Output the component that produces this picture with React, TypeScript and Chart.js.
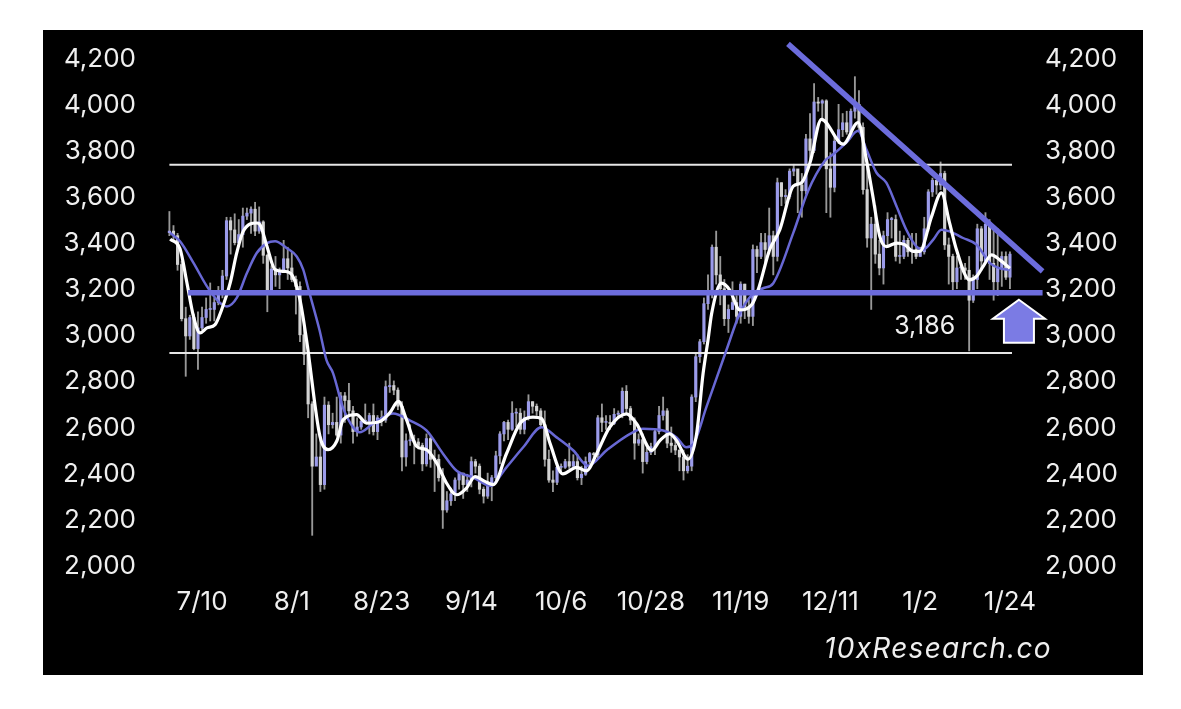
import React, { useEffect, useRef } from 'react';
import { Chart, registerables } from 'chart.js';

Chart.register(...registerables);

const FONT = 'Inter, "Noto Sans", "DejaVu Sans", sans-serif';

// x axis: day index (0 = 1 Jul 2024)
const tickDays = [9, 31, 53, 75, 97, 119, 141, 163, 185, 207];
const tickLabels = ['7/10', '8/1', '8/23', '9/14', '10/6', '10/28', '11/19', '12/11', '1/2', '1/24'];

// daily candles, first one plotted at day 1
const firstCandleDay = 1;
const firstOpen = 3433;
const highs = [
  3525, 3464, 3430, 3310, 3110, 3075, 3080, 3090, 3110, 3150,
  3215, 3150, 3200, 3270, 3500, 3500, 3515, 3490, 3540, 3540,
  3545, 3565, 3545, 3485, 3340, 3290, 3330, 3280, 3400, 3370,
  3350, 3245, 3220, 3020, 2940, 2700, 2560, 2550, 2720, 2700,
  2650, 2720, 2740, 2740, 2780, 2680, 2630, 2630, 2690, 2650,
  2690, 2640, 2660, 2790, 2820, 2790, 2760, 2700, 2560, 2600,
  2555, 2540, 2520, 2560, 2550, 2490, 2470, 2410, 2310, 2325,
  2370, 2390, 2390, 2385, 2460, 2450, 2430, 2330, 2390, 2380,
  2485, 2570, 2615, 2620, 2700, 2670, 2670, 2660, 2730, 2700,
  2690, 2670, 2660, 2490, 2400, 2420, 2430, 2450, 2520, 2470,
  2470, 2420, 2460, 2480, 2480, 2640, 2690, 2640, 2640, 2670,
  2660, 2760, 2770, 2680, 2630, 2560, 2560, 2500, 2520, 2580,
  2680, 2720, 2670, 2590, 2530, 2490, 2490, 2470, 2730, 2910,
  2970, 3150, 3250, 3380, 3440, 3330, 3230, 3120, 3220, 3160,
  3220, 3210, 3140, 3380, 3375, 3430, 3430, 3540, 3440, 3670,
  3650, 3620, 3710, 3730, 3700, 3690, 3860, 3950, 4080, 4020,
  4010, 4010, 3780, 3850, 3990, 3950, 3960, 3970, 4110, 4050,
  3910, 3720, 3500, 3550, 3400, 3440, 3520, 3500, 3510, 3440,
  3420, 3410, 3430, 3430, 3370, 3500, 3620, 3670, 3660, 3740,
  3700, 3410, 3340, 3330, 3300, 3300, 3330, 3250, 3470, 3460,
  3520, 3490, 3450, 3450, 3350, 3350, 3350,
];
const lows = [
  3420, 3400, 3270, 3050, 2810, 2970, 2925, 2840, 3010, 3040,
  3050, 3050, 3120, 3150, 3230, 3340, 3380, 3380, 3370, 3490,
  3430, 3420, 3430, 3300, 3090, 3170, 3200, 3190, 3260, 3230,
  3220, 3080, 2960, 2860, 2630, 2120, 2430, 2310, 2320, 2560,
  2585, 2550, 2520, 2610, 2640, 2520, 2550, 2580, 2610, 2560,
  2555, 2535, 2595, 2610, 2740, 2730, 2665, 2400, 2420, 2510,
  2430, 2495, 2400, 2420, 2415, 2310, 2355, 2150, 2220, 2250,
  2270, 2320, 2280, 2310, 2330, 2390, 2300, 2260, 2280, 2270,
  2360, 2430, 2530, 2535, 2575, 2590, 2560, 2560, 2620, 2650,
  2640, 2590, 2420, 2350, 2310, 2340, 2395, 2410, 2410, 2410,
  2360, 2340, 2380, 2430, 2440, 2450, 2570, 2580, 2580, 2600,
  2630, 2630, 2650, 2600, 2450, 2510, 2390, 2430, 2470, 2470,
  2560, 2620, 2500, 2480, 2470, 2400, 2360, 2390, 2400, 2700,
  2870, 2950, 3100, 3150, 3210, 3120, 3030, 3000, 3100, 3040,
  3040, 3060, 3040, 3030, 3260, 3320, 3280, 3340, 3250, 3310,
  3550, 3560, 3580, 3680, 3520, 3500, 3600, 3750, 3780, 3960,
  3920, 3520, 3500, 3610, 3820, 3850, 3860, 3850, 3930, 3870,
  3600, 3370, 3100, 3300, 3250, 3210, 3380, 3410, 3310, 3300,
  3320, 3330, 3300, 3320, 3330, 3340, 3440, 3590, 3600, 3620,
  3360, 3210, 3180, 3190, 3230, 3230, 2920, 3130, 3190, 3270,
  3300, 3230, 3140, 3160, 3200, 3230, 3190,
];
const closes = [
  3440, 3420, 3295, 3060, 2985, 3065, 2930, 3020, 3065, 3100,
  3100, 3130, 3175, 3245, 3485, 3445, 3390, 3425, 3505, 3518,
  3535, 3440, 3480, 3335, 3175, 3275, 3250, 3270, 3320, 3280,
  3230, 3200, 2990, 2905, 2690, 2420, 2460, 2340, 2685, 2600,
  2610, 2555, 2725, 2705, 2660, 2570, 2590, 2615, 2615, 2640,
  2570, 2630, 2620, 2765, 2770, 2750, 2680, 2460, 2530, 2530,
  2525, 2510, 2430, 2540, 2450, 2450, 2370, 2230, 2270, 2300,
  2360, 2390, 2340, 2360, 2440, 2420, 2320, 2290, 2340, 2370,
  2465, 2560, 2610, 2580, 2650, 2650, 2580, 2630, 2700, 2680,
  2660, 2600, 2450, 2360, 2350, 2415, 2415, 2440, 2420, 2440,
  2370, 2385, 2440, 2475, 2470, 2630, 2610, 2610, 2605, 2645,
  2650, 2745, 2670, 2620, 2520, 2535, 2440, 2480, 2505, 2570,
  2640, 2660, 2520, 2510, 2490, 2460, 2400, 2420, 2720, 2895,
  2960, 3125, 3180, 3370, 3250, 3190, 3060, 3100, 3130, 3070,
  3210, 3110, 3070, 3360, 3330, 3390, 3360, 3420, 3330, 3650,
  3590, 3590, 3700, 3710, 3640, 3615, 3840, 3790, 4000, 3995,
  4005, 3710, 3630, 3830, 3880, 3910, 3870, 3960, 3990, 3890,
  3620, 3410, 3470, 3340, 3280, 3420, 3490, 3490, 3330, 3330,
  3400, 3350, 3360, 3330, 3350, 3450, 3610, 3660, 3640, 3690,
  3380, 3330, 3220, 3280, 3280, 3270, 3140, 3230, 3450, 3310,
  3470, 3300, 3220, 3280, 3330, 3240, 3340,
];

// short moving average (white), [day, value]
const fastMA: [number, number][] = [
  [1.2, 3405], [3.6, 3363], [5.3, 3215], [6.9, 3070], [8.5, 2998], [10.2, 3020],
  [12.2, 3034], [13.8, 3099], [15.9, 3215], [17.5, 3345], [19.1, 3439], [22.4, 3475],
  [23.2, 3468], [24.9, 3374], [26.9, 3273], [29.3, 3265], [31.0, 3251], [33.0, 3142],
  [34.6, 2969], [37.9, 2549], [39.9, 2492], [42.0, 2528], [43.6, 2622], [46.9, 2644],
  [49.3, 2607], [52.6, 2614], [55.0, 2651], [57.1, 2701], [59.1, 2622], [61.6, 2506],
  [64.0, 2492], [66.5, 2434], [68.9, 2347], [71.4, 2296], [73.8, 2325], [75.9, 2375],
  [78.3, 2354], [80.4, 2340], [83.6, 2474], [86.9, 2605], [90.1, 2633], [92.2, 2627],
  [94.3, 2518], [97.4, 2387], [100.8, 2415], [103.2, 2400], [105.7, 2474], [108.9, 2589],
  [113.0, 2647], [115.5, 2604], [119.2, 2488], [121.2, 2531], [123.6, 2560], [125.3, 2531],
  [128.1, 2451], [130.2, 2560], [131.8, 2823], [133.0, 2967], [133.9, 3083], [136.3, 3214],
  [138.3, 3185], [140.8, 3098], [143.7, 3120], [145.3, 3185], [148.1, 3359], [150.6, 3446],
  [153.9, 3635], [155.9, 3650], [158.0, 3737], [160.8, 3925], [166.1, 3817], [169.8, 3911],
  [171.8, 3751], [173.4, 3591], [175.1, 3417], [176.7, 3373], [179.2, 3388], [181.2, 3381],
  [183.3, 3352], [184.9, 3352], [187.8, 3504], [190.2, 3606], [192.2, 3475], [193.9, 3359],
  [197.1, 3228], [198.8, 3243], [200.4, 3286], [202.5, 3337], [204.5, 3315], [207.0, 3279],
];

// longer moving average (purple), [day, value]
const slowMA: [number, number][] = [
  [1.2, 3432], [3.6, 3396], [6.9, 3302], [10.2, 3200], [13.0, 3135], [15.1, 3113],
  [17.5, 3150], [20.0, 3258], [22.4, 3345], [24.9, 3388], [26.9, 3396], [29.7, 3367],
  [32.2, 3330], [33.8, 3273], [35.0, 3193], [37.8, 3010], [39.5, 2880], [41.1, 2824],
  [43.5, 2676], [46.0, 2589], [47.6, 2567], [50.9, 2604], [55.8, 2649], [60.0, 2618],
  [64.0, 2575], [68.1, 2473], [71.4, 2400], [75.5, 2371], [79.6, 2335], [83.6, 2415],
  [87.7, 2502], [92.2, 2589], [95.9, 2545], [100.0, 2488], [103.6, 2422], [108.1, 2488],
  [113.9, 2560], [117.1, 2582], [122.0, 2575], [125.3, 2545], [127.7, 2502], [129.4, 2516],
  [132.6, 2676], [137.5, 2923], [140.8, 3083], [144.1, 3170], [146.5, 3192], [149.0, 3214],
  [153.9, 3432], [157.5, 3613], [161.6, 3744], [163.7, 3773], [166.9, 3824], [169.8, 3875],
  [171.8, 3795], [174.3, 3693], [176.7, 3650], [179.2, 3548], [181.6, 3446], [184.1, 3373],
  [185.7, 3359], [188.2, 3403], [190.2, 3446], [192.2, 3439], [195.5, 3410], [198.8, 3381],
  [202.1, 3301], [204.5, 3279], [207.0, 3272],
];

// horizontal levels
const upperLevel = 3728;
const lowerLevel = 2911;
const levelSpan = [1, 207.5];
const supportLevel = 3172;
const supportSpan = [5.6, 215];
const supportText = '3,186';
const supportTextPos = [186.1, 3027];

// descending trend line
const trendDays = [152.6, 215];
const trendValues = [4252, 3265];

// up arrow anchor (tip)
const arrowPos = [209.2, 3142];

const PURPLE = '#6c6cdc';
const UP_BODY = '#9b9bea';
const DOWN_BODY = '#d2d2d2';
const WICK = 'rgba(190,190,190,0.8)';
const TEXT = '#efefef';

const opens = closes.map((c, i) => (i === 0 ? firstOpen : closes[i - 1]));

const annotationPlugin = {
  id: 'annotations',
  afterDatasetsDraw(chart: any) {
    const { ctx, scales } = chart;
    const x = scales.x;
    const y = scales.y;
    ctx.save();
    ctx.font = `25px ${FONT}`;
    ctx.fillStyle = TEXT;
    ctx.textAlign = 'center';
    ctx.textBaseline = 'middle';
    ctx.fillText(supportText, x.getPixelForValue(supportTextPos[0]), y.getPixelForValue(supportTextPos[1]));

    const ax = x.getPixelForValue(arrowPos[0]);
    const ay = y.getPixelForValue(arrowPos[1]);
    ctx.beginPath();
    ctx.moveTo(ax, ay);
    ctx.lineTo(ax + 26, ay + 19);
    ctx.lineTo(ax + 15, ay + 19);
    ctx.lineTo(ax + 15, ay + 43);
    ctx.lineTo(ax - 15, ay + 43);
    ctx.lineTo(ax - 15, ay + 19);
    ctx.lineTo(ax - 26, ay + 19);
    ctx.closePath();
    ctx.fillStyle = '#7b7be4';
    ctx.fill();
    ctx.strokeStyle = '#ffffff';
    ctx.lineWidth = 2;
    ctx.lineJoin = 'miter';
    ctx.stroke();
    ctx.restore();
  },
};

export default function App() {
  const ref = useRef<HTMLCanvasElement>(null);

  useEffect(() => {
    if (!ref.current) return;
    const candleX = (i: number) => firstCandleDay + i;
    const tickFont = { family: FONT, size: 26 };
    const chart = new Chart(ref.current, {
      type: 'bar',
      data: {
        datasets: [
          {
            type: 'line',
            label: 'Trend',
            data: trendDays.map((d, i) => ({ x: d, y: trendValues[i] })),
            borderColor: PURPLE,
            borderWidth: 5.5,
            pointRadius: 0,
            clip: false,
            order: 1,
          } as any,
          {
            type: 'line',
            label: 'Support',
            data: supportSpan.map((d) => ({ x: d, y: supportLevel })),
            borderColor: PURPLE,
            borderWidth: 5.5,
            pointRadius: 0,
            clip: false,
            order: 1,
          } as any,
          {
            type: 'line',
            label: 'Short MA',
            data: fastMA.map(([d, v]) => ({ x: d, y: v })),
            borderColor: '#ffffff',
            borderWidth: 3.2,
            pointRadius: 0,
            cubicInterpolationMode: 'monotone',
            order: 2,
          } as any,
          {
            type: 'line',
            label: 'Long MA',
            data: slowMA.map(([d, v]) => ({ x: d, y: v })),
            borderColor: '#6868d4',
            borderWidth: 2.5,
            pointRadius: 0,
            cubicInterpolationMode: 'monotone',
            order: 3,
          } as any,
          {
            type: 'line',
            label: 'Upper',
            data: levelSpan.map((d) => ({ x: d, y: upperLevel })),
            borderColor: '#e6e6e6',
            borderWidth: 2,
            pointRadius: 0,
            order: 4,
          } as any,
          {
            type: 'line',
            label: 'Lower',
            data: levelSpan.map((d) => ({ x: d, y: lowerLevel })),
            borderColor: '#e6e6e6',
            borderWidth: 2,
            pointRadius: 0,
            order: 4,
          } as any,
          {
            type: 'bar',
            label: 'Bodies',
            data: closes.map((c, i) => ({ x: candleX(i), y: [opens[i], c] })),
            backgroundColor: closes.map((c, i) => (c >= opens[i] ? UP_BODY : DOWN_BODY)),
            borderWidth: 0,
            barThickness: 2.5,
            minBarLength: 1,
            grouped: false,
            order: 5,
          } as any,
          {
            type: 'bar',
            label: 'Wicks',
            data: highs.map((h, i) => ({ x: candleX(i), y: [lows[i], h] })),
            backgroundColor: WICK,
            borderWidth: 0,
            barThickness: 1.2,
            grouped: false,
            order: 6,
          } as any,
        ],
      },
      options: {
        animation: false,
        responsive: false,
        devicePixelRatio: 1,
        events: [],
        layout: { padding: { top: 13, left: 0, right: 0, bottom: 0 } },
        plugins: {
          legend: { display: false },
          tooltip: { enabled: false },
        },
        scales: {
          x: {
            type: 'linear',
            min: -4,
            max: 215.1,
            offset: false,
            grid: { display: false, drawTicks: false },
            border: { display: false },
            afterBuildTicks: (scale: any) => {
              scale.ticks = tickDays.map((v) => ({ value: v }));
            },
            afterFit: (scale: any) => {
              scale.height = 112;
              scale.paddingLeft = 0;
              scale.paddingRight = 0;
            },
            ticks: {
              autoSkip: false,
              maxRotation: 0,
              padding: 24,
              color: TEXT,
              font: tickFont,
              callback: (v: any) => {
                const i = tickDays.indexOf(Number(v));
                return i >= 0 ? tickLabels[i] : '';
              },
            },
          },
          y: {
            type: 'linear',
            position: 'left',
            min: 2000,
            max: 4256,
            grid: { display: false, drawTicks: false },
            border: { display: false },
            afterFit: (scale: any) => {
              scale.width = 106;
              scale.paddingTop = 0;
              scale.paddingBottom = 0;
            },
            ticks: {
              stepSize: 200,
              includeBounds: false,
              padding: 13,
              labelOffset: 3,
              color: TEXT,
              font: tickFont,
              callback: (v: any) => Number(v).toLocaleString('en-US'),
            },
          },
          y2: {
            type: 'linear',
            position: 'right',
            min: 2000,
            max: 4256,
            grid: { display: false, drawTicks: false },
            border: { display: false },
            afterFit: (scale: any) => {
              scale.width = 100;
              scale.paddingTop = 0;
              scale.paddingBottom = 0;
            },
            ticks: {
              stepSize: 200,
              includeBounds: false,
              padding: 2,
              labelOffset: 3,
              color: TEXT,
              font: tickFont,
              callback: (v: any) => Number(v).toLocaleString('en-US'),
            },
          },
        },
      } as any,
      plugins: [annotationPlugin],
    });
    return () => chart.destroy();
  }, []);

  return (
    <div
      style={{
        position: 'absolute',
        left: 43,
        top: 30,
        width: 1100,
        height: 645,
        background: '#000',
      }}
    >
      <canvas ref={ref} width={1100} height={645} style={{ display: 'block' }} />
      <div
        style={{
          position: 'absolute',
          left: 781,
          top: 603,
          fontFamily: FONT,
          fontStyle: 'italic',
          fontSize: 28,
          letterSpacing: '1.3px',
          lineHeight: '30px',
          color: TEXT,
          whiteSpace: 'nowrap',
        }}
      >
        10xResearch.co
      </div>
    </div>
  );
}
